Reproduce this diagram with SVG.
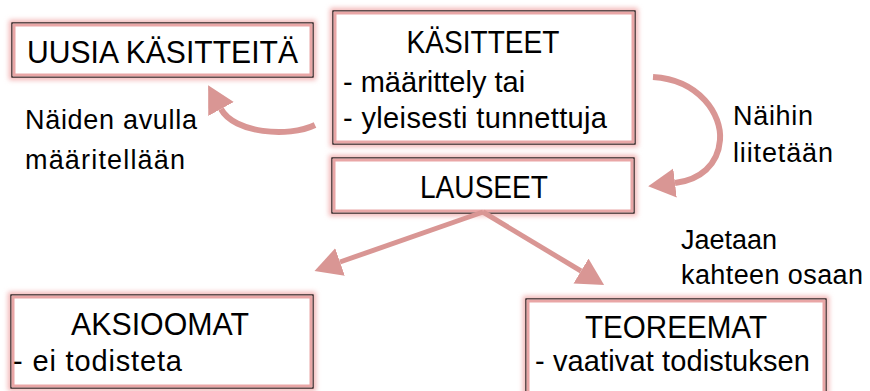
<svg xmlns="http://www.w3.org/2000/svg" width="870" height="391" viewBox="0 0 870 391">
<style>
  .glow{fill:none;stroke:#F2B3B3;stroke-width:6;filter:url(#blur)}
  .bg{fill:#FFFFFF;stroke:#000000;stroke-width:1.2}
  .inner{fill:none;stroke:#E9A6A6;stroke-width:3}
  .t{font-family:"Liberation Sans",Arial,sans-serif;fill:#000000}
  .title{font-size:31px;text-anchor:middle}
  .body{font-size:29px}
  .lab{font-size:27px}
  .arr{fill:none;stroke:#D99694}
</style>
<defs>
  <filter id="blur" x="-10%" y="-40%" width="120%" height="180%">
    <feGaussianBlur stdDeviation="2.5"/>
  </filter>
  <marker id="ah" viewBox="0 -15 28 30" refX="0" refY="0" markerWidth="28" markerHeight="30" markerUnits="userSpaceOnUse" orient="auto">
    <path d="M0,-14.5 L27,0 L0,14.5 Z" fill="#D99694"/>
  </marker>
</defs>
<rect width="870" height="391" fill="#FFFFFF"/>

<g id="uusia">
  <rect class="glow" x="12" y="23" width="301" height="54"/>
  <rect class="bg" x="12" y="23" width="301" height="54"/>
  <rect class="inner" x="14" y="25" width="297" height="50"/>
  <text class="t title" x="162.5" y="63" textLength="271" lengthAdjust="spacingAndGlyphs">UUSIA KÄSITTEITÄ</text>
</g>

<g id="kasitteet">
  <rect class="glow" x="333" y="11" width="302" height="133"/>
  <rect class="bg" x="333" y="11" width="302" height="133"/>
  <rect class="inner" x="335" y="13" width="298" height="129"/>
  <text class="t title" x="483" y="53" textLength="153" lengthAdjust="spacingAndGlyphs">KÄSITTEET</text>
  <text class="t body" x="343" y="92">- määrittely tai</text>
  <text class="t body" x="343" y="128" textLength="264">- yleisesti tunnettuja</text>
</g>

<g id="lauseet">
  <rect class="glow" x="332" y="158" width="302" height="55"/>
  <rect class="bg" x="332" y="158" width="302" height="55"/>
  <rect class="inner" x="334" y="160" width="298" height="51"/>
  <text class="t title" x="484" y="198" textLength="128" lengthAdjust="spacingAndGlyphs">LAUSEET</text>
</g>

<g id="aksioomat">
  <rect class="glow" x="11" y="295" width="302" height="93"/>
  <rect class="bg" x="11" y="295" width="302" height="93"/>
  <rect class="inner" x="13" y="297" width="298" height="89"/>
  <text class="t title" x="160" y="335" textLength="178" lengthAdjust="spacingAndGlyphs">AKSIOOMAT</text>
  <text class="t body" x="13" y="371" textLength="169">- ei todisteta</text>
</g>

<g id="teoreemat">
  <rect class="glow" x="526" y="299" width="300" height="100"/>
  <rect class="bg" x="526" y="299" width="300" height="100"/>
  <rect class="inner" x="528" y="301" width="296" height="96"/>
  <text class="t title" x="676" y="338" textLength="182" lengthAdjust="spacingAndGlyphs">TEOREEMAT</text>
  <text class="t body" x="535" y="371" textLength="275">- vaativat todistuksen</text>
</g>

<g id="labels">
  <text class="t lab" x="25" y="129" textLength="172">Näiden avulla</text>
  <text class="t lab" x="25" y="169" textLength="160">määritellään</text>
  <text class="t lab" x="733" y="125" textLength="80">Näihin</text>
  <text class="t lab" x="733" y="162" textLength="100">liitetään</text>
  <text class="t lab" x="681" y="249" textLength="96">Jaetaan</text>
  <text class="t lab" x="681" y="284" textLength="182">kahteen osaan</text>
</g>

<g id="connectors">
  <path class="arr" stroke-width="6" marker-end="url(#ah)" d="M315,125 C288,138 234,133 221,109"/>
  <path class="arr" stroke-width="6" marker-end="url(#ah)" d="M653,77 C700,80 722,115 720,140 C718,165 700,180 675,183"/>
  <path class="arr" stroke-width="5" marker-end="url(#ah)" d="M483,212 L340,262"/>
  <path class="arr" stroke-width="5" marker-end="url(#ah)" d="M483,212 L581,271"/>
</g>
</svg>
